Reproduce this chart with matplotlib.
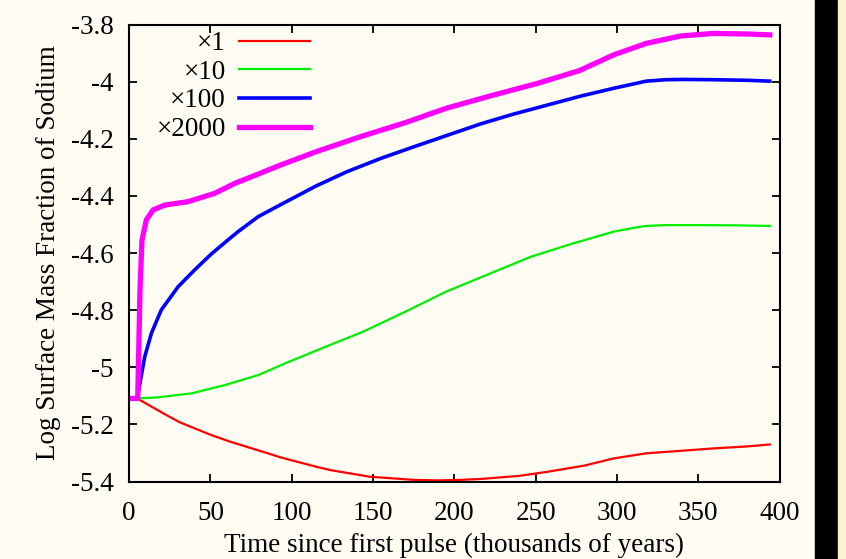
import matplotlib
matplotlib.use("Agg")
import matplotlib.pyplot as plt
from matplotlib.patches import Rectangle
from matplotlib.ticker import FuncFormatter, MultipleLocator

# time since first pulse (kyr) and log surface Na mass fraction
red_t = [5, 21, 31, 50, 62, 82.5, 93, 115, 124, 148, 175, 190, 204, 216, 240, 257, 280, 298, 318, 340, 359, 380, 394]
red_y = [-5.109, -5.161, -5.192, -5.236, -5.260, -5.296, -5.315, -5.348, -5.360, -5.383, -5.394, -5.396, -5.394,
         -5.391, -5.380, -5.366, -5.344, -5.319, -5.301, -5.292, -5.284, -5.277, -5.270]

green_t = [5, 18, 38.5, 59, 79.5, 96, 120, 144, 170, 195, 221, 247, 272, 298, 310, 318, 330, 350, 375, 394]
green_y = [-5.109, -5.105, -5.091, -5.062, -5.027, -4.986, -4.930, -4.875, -4.805, -4.735, -4.674, -4.613, -4.568,
           -4.525, -4.512, -4.505, -4.502, -4.502, -4.503, -4.505]

blue_t = [5, 9.6, 13.7, 19.8, 30.1, 40.3, 50.6, 60.8, 67, 79.5, 95, 115, 134, 155, 175, 196, 216, 236, 257, 278,
          298, 310, 318, 330, 340, 360, 380, 394]
blue_y = [-5.109, -4.963, -4.881, -4.799, -4.718, -4.659, -4.603, -4.554, -4.525, -4.472, -4.425, -4.365, -4.315,
          -4.268, -4.228, -4.187, -4.148, -4.114, -4.082, -4.050, -4.023, -4.008, -3.998, -3.993, -3.992, -3.993,
          -3.995, -3.998]

mag_t = [2, 5.3, 6.7, 7.9, 10.6, 14.7, 21.9, 36.2, 52.6, 65, 80, 93, 115, 142, 170, 195, 222, 251, 277, 298, 318,
         339, 359, 380, 394]
mag_y = [-5.109, -5.109, -4.730, -4.555, -4.484, -4.449, -4.432, -4.420, -4.391, -4.356, -4.322, -4.292, -4.245,
         -4.193, -4.143, -4.093, -4.050, -4.006, -3.961, -3.906, -3.866, -3.840, -3.831, -3.833, -3.836]

labels = ["\u00d71", "\u00d710", "\u00d7100", "\u00d72000"]

plt.rcParams['font.family'] = ['Liberation Serif', 'DejaVu Serif']
plt.rcParams['axes.unicode_minus'] = False

fs = 19.5
bg = "#fefcf3"
fig = plt.figure(figsize=(8.46, 5.59), dpi=100, facecolor=bg)
ax = fig.add_axes([0.1526, 0.1385, 0.7688, 0.8175], facecolor=bg)

ax.plot(red_t, red_y, color="#ff0000", lw=1.6, label=labels[0])
ax.plot(green_t, green_y, color="#00ee00", lw=1.6, label=labels[1])
ax.plot(blue_t, blue_y, color="#0000ff", lw=2.6, label=labels[2])
ax.plot(mag_t, mag_y, color="#ff00ff", lw=3.8, label=labels[3])

ax.set_xlim(0, 400)
ax.set_ylim(-5.4, -3.8)
ax.xaxis.set_major_locator(MultipleLocator(50))
ax.yaxis.set_major_locator(MultipleLocator(0.2))
ax.yaxis.set_major_formatter(FuncFormatter(lambda v, p: "{:g}".format(round(v, 2))))

ax.tick_params(direction="in", length=6, width=1.3, labelsize=fs, top=True, right=True)
ax.tick_params(axis="x", pad=14)
ax.tick_params(axis="y", pad=11)
for s in ax.spines.values():
    s.set_linewidth(1.5)

ax.set_xlabel("Time since first pulse (thousands of years)", fontsize=fs, labelpad=5)
ax.set_ylabel("Log Surface Mass Fraction of Sodium", fontsize=fs, labelpad=7)

ax.legend(loc="upper left", bbox_to_anchor=(0.042, 0.985), markerfirst=False, frameon=False, fontsize=fs,
          handlelength=2.6, handletextpad=0.5, labelspacing=0.13, borderaxespad=0, borderpad=0)

# dark strip at the right edge of the slide
fig.patches.append(Rectangle((0.9634, 0), 0.0271, 1, transform=fig.transFigure, color="black", zorder=0))
fig.patches.append(Rectangle((0.9905, 0), 0.0095, 1, transform=fig.transFigure, color="#fdf1d8", zorder=0))

fig.savefig("out.png", dpi=100, facecolor=bg)
